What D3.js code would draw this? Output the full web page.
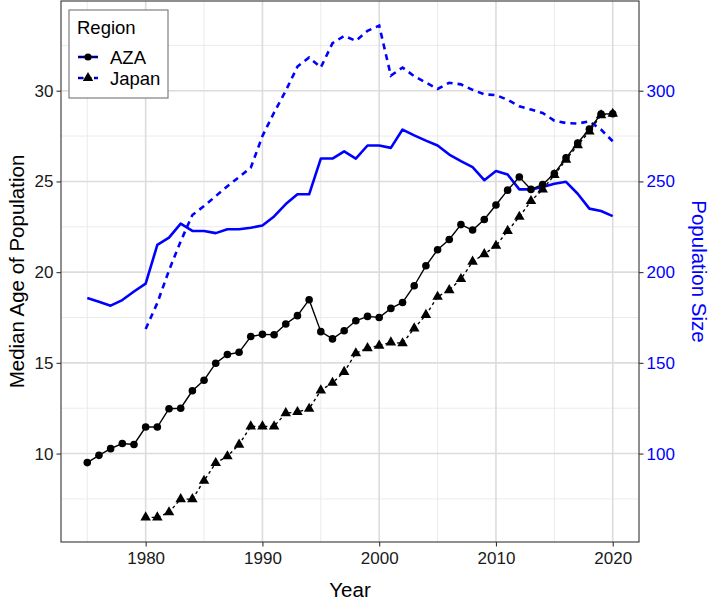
<!DOCTYPE html>
<html>
<head>
<meta charset="utf-8">
<script src="https://cdn.jsdelivr.net/npm/d3@7"></script>
<style>
  body { margin: 0; background: #fff; }
  svg { font-family: "Liberation Sans", Arial, Helvetica, sans-serif; }
</style>
</head>
<body>
<div id="chart"></div>
<script>
// Data
var azaYears = d3.range(1975, 2021);
var azaAge = [9.5, 9.9, 10.27, 10.55, 10.5, 11.46, 11.46, 12.47, 12.5, 13.46,
  14.04, 14.98, 15.46, 15.58, 16.45, 16.57, 16.55, 17.14, 17.6, 18.48,
  16.72, 16.32, 16.77, 17.32, 17.56, 17.5, 18.0, 18.33, 19.25, 20.35,
  21.23, 21.8, 22.62, 22.32, 22.9, 23.7, 24.52, 25.24, 24.56, 24.83,
  25.44, 26.3, 27.12, 27.89, 28.71, 28.73];
var azaPop = [185.7, 183.7, 181.5, 184.6, 189.3, 193.7, 215, 219, 226.7, 222.7,
  222.7, 221.5, 223.6, 223.6, 224.5, 225.7, 230.7, 237.5, 242.9, 242.9,
  262.6, 262.6, 266.6, 262.6, 269.8, 269.8, 268.5, 278.6, 275.4, 272.5,
  269.8, 264.8, 261.2, 257.9, 250.7, 255.7, 253.8, 245.6, 245.6, 246.9,
  248.7, 249.8, 243.2, 235, 233.7, 230.9];

var japanYears = d3.range(1980, 2021);
var japanAge = [6.48, 6.48, 6.76, 7.49, 7.49, 8.5, 9.48, 9.85, 10.49, 11.5,
  11.5, 11.5, 12.23, 12.29, 12.47, 13.48, 13.9, 14.5, 15.53, 15.81,
  15.95, 16.13, 16.08, 16.9, 17.64, 18.64, 19.01, 19.62, 20.58, 20.99,
  21.45, 22.27, 23.05, 23.92, 24.56, 25.35, 26.2, 27.0, 27.75, 28.65, 28.73];
var japanPop = [168.7, 183, 201, 217, 231.5, 236.4, 241.9, 247.4, 252.4, 257.5,
  275, 288, 300, 313.3, 318.3, 312.8, 326.2, 330.2, 327.5, 333,
  335.9, 308.3, 312.8, 308, 304.5, 301, 304.4, 303.5, 300.5, 298,
  297.6, 295, 291.4, 289.6, 287.7, 283.5, 282.2, 281.9, 283.1, 278.6, 272.1];

var xTicks = [1980, 1990, 2000, 2010, 2020];
var xMinor = [1975, 1985, 1995, 2005, 2015];
var ageTicks = [10, 15, 20, 25, 30];
var ageMinor = [7.5, 12.5, 17.5, 22.5, 27.5, 32.5];
var popTicks = [100, 150, 200, 250, 300];
var popScaleFactor = 10;   // secondary axis = age * 10

var regions = ["AZA", "Japan"];

var width = 711, height = 604;
var panel = { left: 61, right: 639, top: 1, bottom: 542 };

var svg = d3.select("#chart").append("svg")
  .attr("width", width)
  .attr("height", height);

// combined scale range (pop transformed onto age scale), 5% expansion like ggplot
var allVals = azaAge.concat(japanAge,
  azaPop.map(function(d) { return d / popScaleFactor; }),
  japanPop.map(function(d) { return d / popScaleFactor; }));
var ext = d3.extent(allVals);
var pad = (ext[1] - ext[0]) * 0.05;

var xScale = d3.scaleLinear().domain([1975 - 2.25, 2020 + 2.25]).range([panel.left, panel.right]);
var yScale = d3.scaleLinear().domain([ext[0] - pad, ext[1] + pad]).range([panel.bottom, panel.top]);

// grid
var grid = svg.append("g");
xMinor.forEach(function(v) {
  grid.append("line").attr("x1", xScale(v)).attr("x2", xScale(v))
    .attr("y1", panel.top).attr("y2", panel.bottom)
    .attr("stroke", "#ebebeb").attr("stroke-width", 1);
});
ageMinor.forEach(function(v) {
  grid.append("line").attr("x1", panel.left).attr("x2", panel.right)
    .attr("y1", yScale(v)).attr("y2", yScale(v))
    .attr("stroke", "#ebebeb").attr("stroke-width", 1);
});
xTicks.forEach(function(v) {
  grid.append("line").attr("x1", xScale(v)).attr("x2", xScale(v))
    .attr("y1", panel.top).attr("y2", panel.bottom)
    .attr("stroke", "#dcdcdc").attr("stroke-width", 1.6);
});
ageTicks.forEach(function(v) {
  grid.append("line").attr("x1", panel.left).attr("x2", panel.right)
    .attr("y1", yScale(v)).attr("y2", yScale(v))
    .attr("stroke", "#dcdcdc").attr("stroke-width", 1.6);
});

// population lines (blue)
var line = d3.line()
  .x(function(d) { return xScale(d[0]); })
  .y(function(d) { return yScale(d[1]); });

var azaPopPts = azaYears.map(function(y, i) { return [y, azaPop[i] / popScaleFactor]; });
var japanPopPts = japanYears.map(function(y, i) { return [y, japanPop[i] / popScaleFactor]; });
var azaAgePts = azaYears.map(function(y, i) { return [y, azaAge[i]]; });
var japanAgePts = japanYears.map(function(y, i) { return [y, japanAge[i]]; });

svg.append("path").datum(azaPopPts)
  .attr("d", line).attr("fill", "none")
  .attr("stroke", "#0000ff").attr("stroke-width", 2.6)
  .attr("stroke-linejoin", "round");

svg.append("path").datum(japanPopPts)
  .attr("d", line).attr("fill", "none")
  .attr("stroke", "#0000ff").attr("stroke-width", 2.6)
  .attr("stroke-dasharray", "6,5");

// age lines (black)
svg.append("path").datum(azaAgePts)
  .attr("d", line).attr("fill", "none")
  .attr("stroke", "#000").attr("stroke-width", 1.4);

svg.append("path").datum(japanAgePts)
  .attr("d", line).attr("fill", "none")
  .attr("stroke", "#000").attr("stroke-width", 1.4)
  .attr("stroke-dasharray", "3,3");

svg.selectAll(".aza-pt").data(azaAgePts).enter()
  .append("circle").attr("class", "aza-pt")
  .attr("cx", function(d) { return xScale(d[0]); })
  .attr("cy", function(d) { return yScale(d[1]); })
  .attr("r", 3.8).attr("fill", "#000");

var tri = d3.symbol().type(d3.symbolTriangle).size(48);
svg.selectAll(".jp-pt").data(japanAgePts).enter()
  .append("path").attr("class", "jp-pt")
  .attr("d", tri)
  .attr("transform", function(d) { return "translate(" + xScale(d[0]) + "," + yScale(d[1]) + ")"; })
  .attr("fill", "#000");

// panel border
svg.append("rect")
  .attr("x", panel.left).attr("y", panel.top)
  .attr("width", panel.right - panel.left).attr("height", panel.bottom - panel.top)
  .attr("fill", "none").attr("stroke", "#333").attr("stroke-width", 1.1);

// axes
var xAxis = svg.append("g")
  .attr("transform", "translate(0," + panel.bottom + ")")
  .call(d3.axisBottom(xScale).tickValues(xTicks).tickSize(4.5).tickPadding(5).tickFormat(d3.format("d")));
var yAxisL = svg.append("g")
  .attr("transform", "translate(" + panel.left + ",0)")
  .call(d3.axisLeft(yScale).tickValues(ageTicks).tickSize(4.5).tickPadding(3));
var yAxisR = svg.append("g")
  .attr("transform", "translate(" + panel.right + ",0)")
  .call(d3.axisRight(yScale).tickValues(popTicks.map(function(d) { return d / popScaleFactor; }))
    .tickSize(4.5).tickPadding(3)
    .tickFormat(function(d) { return Math.round(d * popScaleFactor); }));

[xAxis, yAxisL, yAxisR].forEach(function(a) {
  a.select(".domain").remove();
  a.selectAll(".tick line").attr("stroke", "#333").attr("stroke-width", 1.1);
  a.selectAll(".tick text").attr("font-size", "17px").attr("fill", "#1a1a1a");
});
yAxisR.selectAll(".tick text").attr("fill", "#0000ff");

// axis titles
svg.append("text")
  .attr("x", (panel.left + panel.right) / 2).attr("y", 597)
  .attr("text-anchor", "middle").attr("font-size", "20.5px").attr("fill", "#000")
  .text("Year");

svg.append("text")
  .attr("transform", "translate(24," + (panel.top + panel.bottom) / 2 + ") rotate(-90)")
  .attr("text-anchor", "middle").attr("font-size", "20.5px").attr("fill", "#000")
  .text("Median Age of Population");

svg.append("text")
  .attr("transform", "translate(692," + (panel.top + panel.bottom) / 2 + ") rotate(90)")
  .attr("text-anchor", "middle").attr("font-size", "20.5px").attr("fill", "#0000ff")
  .text("Population Size");

// legend
var legend = svg.append("g").attr("transform", "translate(69,10)");
legend.append("rect")
  .attr("width", 99).attr("height", 88)
  .attr("fill", "#fff").attr("stroke", "#7f7f7f").attr("stroke-width", 1.2);
legend.append("text")
  .attr("x", 8).attr("y", 24)
  .attr("font-size", "18.5px").attr("fill", "#000")
  .text("Region");

regions.forEach(function(r, i) {
  var ky = 47 + i * 21;
  var g = legend.append("g").attr("transform", "translate(0," + ky + ")");
  g.append("line").attr("x1", 9).attr("x2", 29).attr("y1", 0).attr("y2", 0)
    .attr("stroke", "#0000ff").attr("stroke-width", 2.6)
    .attr("stroke-dasharray", i === 1 ? "5,3" : null);
  g.append("line").attr("x1", 9).attr("x2", 29).attr("y1", 0).attr("y2", 0)
    .attr("stroke", "#000").attr("stroke-width", 1.2)
    .attr("stroke-dasharray", i === 1 ? "2,2" : null);
  if (i === 0) {
    g.append("circle").attr("cx", 19).attr("cy", 0).attr("r", 3.6).attr("fill", "#000");
  } else {
    g.append("path").attr("d", tri).attr("transform", "translate(19,0)").attr("fill", "#000");
  }
  g.append("text").attr("x", 41).attr("y", 6.5)
    .attr("font-size", "18.5px").attr("fill", "#000")
    .text(r);
});
</script>
</body>
</html>
